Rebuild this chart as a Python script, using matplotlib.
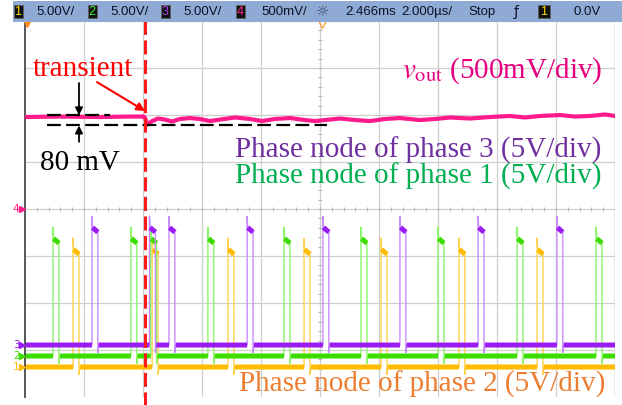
import numpy as np
import matplotlib.pyplot as plt
from matplotlib.patches import Rectangle

plt.rcParams['mathtext.fontset'] = 'stix'

# screen: 10 div x 2 us, 8 div vertical; time measured from the left edge (us)
t_span = 20.0
n_div_y = 8

# rising edges of the switch nodes (us)
green_edges = [0.95, 3.59, 4.26, 6.20, 8.78, 11.39, 14.00, 16.68, 19.36]
yellow_edges = [1.63, 4.31, 6.88, 9.46, 12.07, 14.71, 17.36]
purple_edges = [2.27, 4.22, 4.88, 7.53, 10.10, 12.71, 15.36, 18.03]
pulse_width = 0.2      # us
pulse_high = 12.3      # V
pulse_spike = 13.7     # V
pulse_ring = -0.8      # V

# channel ground levels (div from bottom of screen)
purple_gnd = 1.106
green_gnd = 0.872
yellow_gnd = 0.638
vout_level = 5.957

# output voltage ripple (mV around the steady level)
vout_t = [0.0, 1.19, 2.54, 3.56, 4.03, 4.07, 4.14, 4.31, 4.51, 4.75, 4.98, 5.25,
          5.59, 5.93, 6.27, 6.61, 7.12, 7.63, 8.03, 8.47, 8.98, 9.49, 9.83,
          10.17, 10.68, 11.19, 11.69, 12.20, 12.71, 13.39, 13.90, 14.41, 15.08,
          15.76, 16.44, 16.95, 17.46, 18.14, 18.64, 19.15, 19.66, 20.0]
vout_mv = [0, 5, 0, 5, 5, -11, -80, -43, -16, -27, -48, -21,
           -11, -21, -43, -27, -5, -21, -43, -21, -11, -32, -43,
           -32, -16, -32, -43, -21, -11, -32, -21, -5, -16,
           0, 11, -5, 11, 21, 5, 11, 27, 11]
band_hi_mv = 18
band_lo_mv = -90
t_transient = 4.07

header_boxes = ["1", "2", "3", "4"]
header_scales = ["5.00V/", "5.00V/", "5.00V/", "500mV/"]


def switch_node(edges):
    t, v = [0.0], [0.0]
    for e in edges:
        t += [e, e, e + 0.02, e + pulse_width, e + pulse_width, e + pulse_width + 0.03]
        v += [0, pulse_spike, pulse_high + 0.2, pulse_high - 0.3, pulse_ring, 0]
    t.append(t_span)
    v.append(0)
    # thick parts: flat baseline and pulse tops
    tk, vk = [], []
    prev = 0.0
    for e in edges:
        tk += [prev, e, np.nan, e + 0.02, e + pulse_width, np.nan]
        vk += [0, 0, np.nan, pulse_high + 0.2, pulse_high - 0.3, np.nan]
        prev = e + pulse_width + 0.03
    tk += [prev, t_span]
    vk += [0, 0]
    return np.array(t), np.array(v), np.array(tk), np.array(vk)


fig = plt.figure(figsize=(6.22, 4.05), dpi=100)
W, H = 622, 405
ax = fig.add_axes([25 / W, 8 / H, 590 / W, 376 / H])
ax.set_xlim(0, t_span)
ax.set_ylim(0, n_div_y)
ax.set_xticks([])
ax.set_yticks([])
for s in ['top', 'bottom', 'right']:
    ax.spines[s].set_visible(False)
ax.spines['left'].set_color('#4a4a4a')
ax.spines['left'].set_linewidth(1.3)

# graticule
for x in np.arange(2, t_span, 2):
    ax.axvline(x, color='#cfcfcf', lw=0.9, zorder=0)
for y in range(1, n_div_y + 1):
    ax.axhline(y, color='#cfcfcf', lw=0.9, zorder=0)
ax.axvline(t_span, color='#a8a8a8', lw=1.0, zorder=0)
ax.plot(np.arange(0.4, t_span, 0.4), np.full(49, 4.0), ls='none', marker='|',
        ms=3.5, mew=0.8, color='#b8b8b8', zorder=0)
ax.plot(np.full(39, 10.0), np.arange(0.2, 8, 0.2), ls='none', marker='_',
        ms=3.5, mew=0.8, color='#b8b8b8', zorder=0)

# switch nodes
for edges, gnd, c_thin, c_thick in [(yellow_edges, yellow_gnd, '#ffd24d', '#ffbb00'),
                                    (green_edges, green_gnd, '#8cf56a', '#3ddc00'),
                                    (purple_edges, purple_gnd, '#c98cff', '#9b1cf2')]:
    t, v, tk, vk = switch_node(edges)
    ax.plot(t, gnd + v / 5.0, color=c_thin, lw=1.0, zorder=2)
    ax.plot(tk, gnd + vk / 5.0, color=c_thick, lw=3.6, zorder=2,
            solid_capstyle='butt')

# output voltage
ax.plot(vout_t, vout_level + np.array(vout_mv) / 500.0, color='#ff1a8c',
        lw=3.0, zorder=3)

# 80 mV band
hi = vout_level + band_hi_mv / 500.0
lo = vout_level + band_lo_mv / 500.0
ax.plot([0.75, 2.88], [hi, hi], color='k', lw=1.6, dashes=(6.2, 2.4), zorder=4)
ax.plot([0.75, 10.24], [lo, lo], color='k', lw=1.6, dashes=(6.2, 2.4), zorder=4)
ax.annotate('', xy=(1.83, hi), xytext=(1.83, 6.68),
            arrowprops=dict(arrowstyle='-|>', color='k', lw=1.3, mutation_scale=11,
                            shrinkA=0, shrinkB=0), zorder=5)
ax.annotate('', xy=(1.83, lo), xytext=(1.83, 5.43),
            arrowprops=dict(arrowstyle='-|>', color='k', lw=1.3, mutation_scale=11,
                            shrinkA=0, shrinkB=0), zorder=5)
ax.text(1.85, 4.83, '80 mV', family='Liberation Serif', fontsize=21,
        ha='center', va='baseline', color='k', zorder=5)

# transient marker
ax.plot([t_transient, t_transient], [-0.2, n_div_y], color='#ff1a1a', lw=2.2,
        dashes=(4.6, 1.8), zorder=4, clip_on=False)
ax.text(0.27, 6.83, 'transient', family='Liberation Serif', fontsize=21,
        ha='left', va='baseline', color='#ff0000', zorder=5)
ax.annotate('', xy=(t_transient, 6.085), xytext=(2.44, 6.70),
            arrowprops=dict(arrowstyle='-|>', color='#ff0000', lw=1.5,
                            mutation_scale=12, shrinkA=0, shrinkB=0), zorder=5)

# trace labels
ax.text(19.59, 6.79, r'$v_{\rm out}$ (500mV/div)', family='Liberation Serif',
        fontsize=21, ha='right', va='baseline', color='#e6007e', zorder=5)
ax.text(19.55, 5.085, 'Phase node of phase 3 (5V/div)', family='Liberation Serif',
        fontsize=21, ha='right', va='baseline', color='#7030a0', zorder=5)
ax.text(19.55, 4.53, 'Phase node of phase 1 (5V/div)', family='Liberation Serif',
        fontsize=21, ha='right', va='baseline', color='#00b050', zorder=5)
ax.text(19.66, 0.106, 'Phase node of phase 2 (5V/div)', family='Liberation Serif',
        fontsize=21, ha='right', va='baseline', color='#ed7d31', zorder=5)

# channel ground markers on the left
for lab, y, c in [('4', 4.0, '#ff1a8c'), ('3', purple_gnd, '#9b1cf2'),
                  ('2', green_gnd, '#3ddc00'), ('1', yellow_gnd, '#ffbb00')]:
    ax.text(-0.30, y, lab, fontsize=7.5, ha='center', va='center', color=c,
            clip_on=False, zorder=5)
    ax.plot([-0.1], [y], marker='>', ms=4, color=c, clip_on=False, zorder=5)
ax.plot([0.06], [7.93], marker='v', ms=5, color='#ff8c1a', clip_on=False, zorder=6)
ax.plot([10.08], [7.93], marker='v', ms=6, mfc='none', mec='#ff9933', mew=0.9,
        clip_on=False, zorder=6)

# header bar
hb = fig.add_axes([13 / W, (H - 22) / H, 609 / W, 21 / H])
hb.set_xlim(13, 622)
hb.set_ylim(22, 0)
hb.set_facecolor('#8fabd5')
hb.set_xticks([])
hb.set_yticks([])
for s in hb.spines.values():
    s.set_visible(False)
box_colors = ['#ffdd00', '#33ee33', '#b040ff', '#ff2a90']
box_x = [18, 92, 165, 240]
text_x = [36, 110, 183, 261]
for lab, sc, c, bx, tx in zip(header_boxes, header_scales, box_colors, box_x, text_x):
    hb.add_patch(Rectangle((bx - 4.5, 4), 9, 14, facecolor='#101010',
                           edgecolor='#606060', lw=0.6))
    hb.text(bx, 11.5, lab, fontsize=9, color=c, ha='center', va='center',
            family='Liberation Sans')
    hb.text(tx, 11.5, sc, fontsize=9.5, color='#0c1226', ha='left', va='center',
            family='Liberation Sans')
hb.text(323, 11.5, '\u263c', fontsize=11, color='#404a60', ha='center', va='center')
hb.text(345, 11.5, '2.466ms', fontsize=9.5, color='#0c1226', ha='left', va='center',
        family='Liberation Sans')
hb.text(401, 11.5, '2.000\u00b5s/', fontsize=9.5, color='#0c1226', ha='left',
        va='center', family='Liberation Sans')
hb.text(468, 11.5, 'Stop', fontsize=9.5, color='#0c1226', ha='left', va='center',
        family='Liberation Sans')
hb.text(516, 11.5, '\u0192', fontsize=10, color='#0c1226', ha='center', va='center')
hb.add_patch(Rectangle((538, 4), 12, 14, facecolor='#101010', edgecolor='#606060',
                       lw=0.6))
hb.text(544, 11.5, '1', fontsize=9, color='#ffdd00', ha='center', va='center',
        family='Liberation Sans')
hb.text(574, 11.5, '0.0V', fontsize=9.5, color='#0c1226', ha='left', va='center',
        family='Liberation Sans')

fig.savefig('out.png', dpi=100)
